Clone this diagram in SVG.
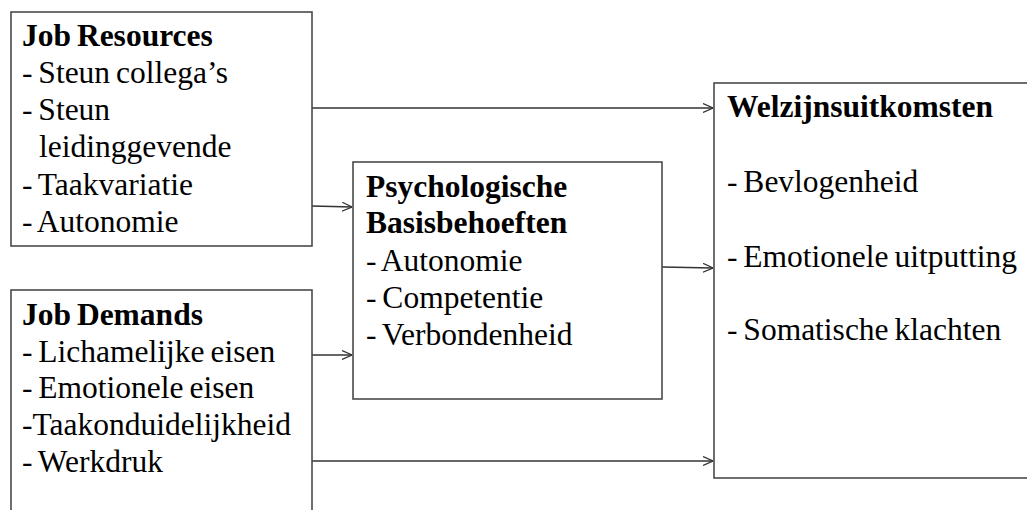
<svg xmlns="http://www.w3.org/2000/svg" width="1027" height="510" viewBox="0 0 1027 510">
<style>
.box{fill:#fff;stroke:#4a4a4a;stroke-width:1.6}
.t{font-family:'Liberation Serif','Times New Roman','DejaVu Serif',serif;font-size:31.5px;fill:#000;word-spacing:-2px}
.b{font-weight:bold}
.c{stroke:#333;stroke-width:1.3;fill:none;marker-end:url(#ah)}
</style>
<defs>
<marker id="ah" viewBox="0 0 10 10" refX="10" refY="5" markerWidth="10" markerHeight="10" markerUnits="userSpaceOnUse" orient="auto">
<path d="M0,0.5 L10,5 L0,9.5" fill="none" stroke="#333" stroke-width="1.2"/>
</marker>
</defs>
<rect width="1027" height="510" fill="#fff"/>
<g id="connectors">
<line class="c" x1="312" y1="108" x2="713" y2="108"/>
<line class="c" x1="312" y1="206" x2="352" y2="207"/>
<line class="c" x1="312" y1="355" x2="352" y2="355"/>
<line class="c" x1="662" y1="267" x2="713" y2="268"/>
<line class="c" x1="312" y1="461" x2="713" y2="461"/>
</g>
<g id="job-resources">
<rect class="box" x="11" y="12" width="301" height="234"/>
<text class="t b" x="22" y="46">Job Resources</text>
<text class="t" x="22" y="83">- Steun collega’s</text>
<text class="t" x="22" y="120">- Steun</text>
<text class="t" x="39" y="157">leidinggevende</text>
<text class="t" x="22" y="195">- Taakvariatie</text>
<text class="t" x="22" y="232">- Autonomie</text>
</g>
<g id="job-demands">
<rect class="box" x="11" y="290" width="301" height="240"/>
<text class="t b" x="22" y="325">Job Demands</text>
<text class="t" x="22" y="362">- Lichamelijke eisen</text>
<text class="t" x="22" y="398">- Emotionele eisen</text>
<text class="t" x="22" y="435">-Taakonduidelijkheid</text>
<text class="t" x="22" y="472">- Werkdruk</text>
</g>
<g id="psychologische-basisbehoeften">
<rect class="box" x="353" y="162" width="309" height="237"/>
<text class="t b" x="366" y="197">Psychologische</text>
<text class="t b" x="366" y="233">Basisbehoeften</text>
<text class="t" x="366" y="271">- Autonomie</text>
<text class="t" x="366" y="308">- Competentie</text>
<text class="t" x="366" y="345">- Verbondenheid</text>
</g>
<g id="welzijnsuitkomsten">
<rect class="box" x="714" y="83" width="330" height="395"/>
<text class="t b" x="727" y="117">Welzijnsuitkomsten</text>
<text class="t" x="727" y="192">- Bevlogenheid</text>
<text class="t" x="727" y="267">- Emotionele uitputting</text>
<text class="t" x="727" y="340">- Somatische klachten</text>
</g>
</svg>
